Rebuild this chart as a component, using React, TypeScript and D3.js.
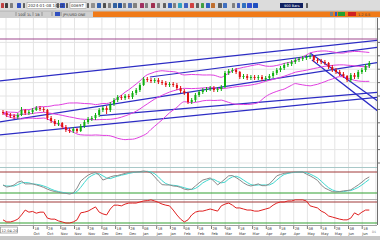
import React from 'react';
import * as d3 from 'd3';

// ---------- DATA (price units) ----------
const opens = [58,57,55,54,53,55,60,57,58,60,62,61,60,52,49,46,47,43,40,39,41,39,44,48,51,52,55,60,62,60,66,70,73,72,74,73,77,80,85,91,90,89,90,88,87,85,86,85,82,79,77,68,70,75,78,80,81,82,80,81,83,97,99,100,98,93,94,92,93,92,93,91,92,94,97,100,102,105,106,108,110,111,112,113,114,110,109,108,107,103,100,98,96,94,90,95,93,98,100,104];
const highs = [60,59,57,56,57,63,61,60,62,64,64,63,61,54,51,50,48,45,42,43,42,46,50,53,54,57,62,64,64,68,72,75,75,76,76,79,82,87,93,93,92,92,92,90,89,88,88,87,84,81,78,72,77,80,82,83,84,84,83,85,99,101,102,102,99,96,96,95,95,95,95,94,96,99,102,104,107,108,110,112,113,114,115,116,115,112,111,110,108,105,102,100,98,95,97,97,100,102,106,109];
const lows = [55,53,52,51,51,54,55,55,56,59,59,58,50,47,44,44,41,38,37,37,37,38,42,46,49,50,53,58,56,58,64,68,70,70,71,71,75,78,84,88,87,87,86,85,83,83,83,80,77,75,66,66,68,73,76,78,79,78,78,79,82,95,97,96,91,91,90,90,90,90,89,89,90,92,95,98,100,103,104,106,108,109,110,111,108,107,106,105,101,98,96,94,92,88,88,91,91,96,98,102];
const closes = [57,55,54,53,55,60,57,58,60,62,61,60,52,49,46,47,43,40,39,41,39,44,48,51,52,55,60,62,60,66,70,73,72,74,73,77,80,85,91,90,89,90,88,87,85,86,85,82,79,77,68,70,75,78,80,81,82,80,81,83,97,99,100,98,93,94,92,93,92,93,91,92,94,97,100,102,105,106,108,110,111,112,113,114,110,109,108,107,103,100,98,96,94,90,95,93,98,100,104,107];

const stochK = [43,37,39,43,51,54,46,46,46,43,40,36,31,27,24,22,20,19,17,20,34,54,63,71,76,79,71,57,61,66,69,70,73,76,79,80,80,81,83,81,77,66,54,44,43,43,40,39,36,31,29,31,40,49,57,60,63,54,43,51,60,69,70,64,57,49,43,40,43,46,41,41,46,57,69,73,76,78,79,80,80,80,74,69,63,56,43,34,29,24,23,24,26,27,29,36,43,51,60,66];
const stochD = [42,40,40,40,44,49,50,49,46,45,43,40,36,31,27,24,22,20,19,19,24,36,50,63,70,75,75,69,63,61,65,68,71,73,76,78,80,80,81,82,80,75,66,55,47,43,42,41,38,35,32,30,33,40,49,55,60,59,53,49,51,60,66,68,64,57,50,44,42,43,43,43,43,48,57,66,73,76,78,79,80,80,78,74,69,63,54,44,35,29,25,24,24,26,27,31,36,43,51,59];
const oscR = [29,23,23,26,31,43,57,51,53,48,51,51,34,31,31,26,23,20,20,23,29,49,51,54,60,66,51,46,43,60,71,71,69,74,77,77,77,80,83,84,86,83,79,74,71,69,57,43,31,23,29,43,51,54,54,57,60,57,54,69,74,77,71,63,63,60,57,57,54,54,57,60,63,71,77,80,80,83,83,86,86,86,83,69,66,63,54,49,40,37,34,31,29,29,34,49,43,51,57,57];

const overbought = 80;
const oversold = 20;
const resistance = 131;
const bbPeriod = 20;
const bbWidth = 2;

// trend lines: [startIndex, startPrice, endIndex, endPrice]
const trendLines = [
  [-1, 89, 102, 130],
  [39.7, 93, 102, 123],
  [-1, 48, 102, 108],
  [26.2, 54.4, 102, 78],
  [-1, 35, 102, 73],
  [83, 117, 102, 67],
  [83.5, 110, 102, 57],
];

const dayLabels = ['18','28','08','18','28','08','18','28','08','18','28','08','18','28','08','18','28','08','18','28','08','18','28','08','18','28'];
const monthLabels = ['Oct','Oct','Nov','Nov','Nov','Dec','Dec','Dec','Jan','Jan','Jan','Feb','Feb','Feb','Mar','Mar','Mar','Apr','Apr','Apr','May','May','May','Jun','Jun','Jun'];

// decorative toolbar glyphs [x, width, colour]
const toolIcons: [number, number, string][] = [
  [1,3,'#c04040'],[5,3,'#404040'],[10,3,'#808080'],[17,4,'#3050c0'],[23,2,'#606060'],
  [57,2,'#606060'],[60,5,'#3050c0'],[66,2,'#606060'],[87,2,'#606060'],[91,4,'#909090'],
  [97,4,'#3060b0'],[103,3,'#505050'],[108,3,'#808080'],[113,4,'#3060a0'],[118,4,'#2050a0'],
  [123,3,'#808080'],[128,4,'#5070b0'],[133,4,'#808080'],[140,4,'#a03060'],[145,3,'#808080'],
  [151,4,'#a03050'],[157,3,'#808080'],[163,3,'#606060'],[168,4,'#3060c0'],[173,3,'#808080'],
  [178,4,'#30a0c0'],[184,4,'#4060c0'],[190,4,'#d04040'],[196,3,'#606060'],[201,3,'#40a040'],
  [206,4,'#3060c0'],[211,4,'#c07030'],[218,4,'#606060'],[223,4,'#4070c0'],[232,3,'#808080'],
  [237,3,'#4060c0'],[242,4,'#3070c0'],[247,5,'#3050d0'],[253,5,'#2050c0'],[306,2,'#606060'],
];

export default function App() {
  const W = 380, H = 240;
  const n = closes.length;
  const x = d3.scaleLinear().domain([0, n - 1]).range([3, 369.3]);
  const yMain = d3.scaleLinear().domain([0, 152]).range([170, 18]);
  const yStoch = d3.scaleLinear().domain([0, 100]).range([200, 165]);
  const yOsc = d3.scaleLinear().domain([0, 100]).range([230, 195]);

  const bb = closes.map((_, i) => {
    const w = closes.slice(Math.max(0, i - bbPeriod + 1), i + 1);
    const m = d3.mean(w) as number;
    const s = Math.sqrt(d3.mean(w, (v) => (v - m) * (v - m)) as number);
    return { m, u: m + bbWidth * s, l: m - bbWidth * s };
  });

  const bbLine = (key: 'm' | 'u' | 'l') =>
    d3.line<{ m: number; u: number; l: number }>()
      .x((_, i) => x(i))
      .y((d) => yMain(d[key]))
      .curve(d3.curveMonotoneX)(bb) as string;

  const stochLine = (arr: number[]) =>
    d3.line<number>().x((_, i) => x(i)).y((d) => yStoch(d))(arr) as string;
  const oscLine = d3.line<number>().x((_, i) => x(i)).y((d) => yOsc(d))(oscR) as string;

  const gridX = d3.range(0, 28).map((k) => 6 + 13.7 * k);
  const gridY = d3.range(0, 11).map((k) => 163 - 13.4 * k);

  const font = 'DejaVu Sans, sans-serif';

  return (
    <svg width={W} height={H} style={{ position: 'fixed', left: 0, top: 0, background: '#fff' }}
      xmlns="http://www.w3.org/2000/svg">
      <defs>
        <clipPath id="mainClip"><rect x={0} y={18} width={377} height={149} /></clipPath>
      </defs>
      <rect x={0} y={0} width={W} height={H} fill="#ffffff" />

      {/* grid */}
      {gridX.map((gx, i) => (
        <line key={'gx' + i} x1={gx} x2={gx} y1={18} y2={225} stroke="#e4e4e4" strokeWidth={1} />
      ))}
      {gridY.map((gy, i) => (
        <line key={'gy' + i} x1={0} x2={377} y1={gy} y2={gy} stroke="#e4e4e4" strokeWidth={1} />
      ))}

      <g clipPath="url(#mainClip)">
        {/* resistance horizontal */}
        <line x1={0} x2={377} y1={yMain(resistance)} y2={yMain(resistance)} stroke="#a04a90" strokeWidth={1.2} />
        {/* trend lines */}
        {trendLines.map((t, i) => (
          <line key={'t' + i} x1={x(t[0])} y1={yMain(t[1])} x2={x(t[2])} y2={yMain(t[3])}
            stroke="#2c2cc4" strokeWidth={1.2} />
        ))}
        {/* bollinger */}
        <path d={bbLine('u')} fill="none" stroke="#e040e0" strokeWidth={1} />
        <path d={bbLine('m')} fill="none" stroke="#e040e0" strokeWidth={1} />
        <path d={bbLine('l')} fill="none" stroke="#e040e0" strokeWidth={1} />
        {/* candles */}
        {closes.map((c, i) => {
          const o = opens[i];
          const up = c >= o;
          const col = up ? '#10b010' : '#e01010';
          const top = yMain(Math.max(o, c));
          const bot = yMain(Math.min(o, c));
          return (
            <g key={'c' + i}>
              <line x1={x(i)} x2={x(i)} y1={yMain(highs[i])} y2={yMain(lows[i])} stroke={col} strokeWidth={1} />
              <rect x={x(i) - 1} y={top} width={2} height={Math.max(1, bot - top)} fill={col} />
            </g>
          );
        })}
      </g>

      {/* panel separators */}
      <line x1={0} x2={377} y1={167.5} y2={167.5} stroke="#a8c8c8" strokeWidth={1} />
      <line x1={0} x2={377} y1={199.5} y2={199.5} stroke="#b0b0b0" strokeWidth={1} />
      <line x1={0} x2={377} y1={225.5} y2={225.5} stroke="#a0a0a0" strokeWidth={1} />

      {/* stochastic panel */}
      <line x1={0} x2={377} y1={yStoch(overbought)} y2={yStoch(overbought)} stroke="#a03838" strokeWidth={1} />
      <line x1={0} x2={377} y1={yStoch(oversold)} y2={yStoch(oversold)} stroke="#30a030" strokeWidth={1} />
      <path d={stochLine(stochD)} fill="none" stroke="#40d8d0" strokeWidth={1} />
      <path d={stochLine(stochK)} fill="none" stroke="#8a8a8a" strokeWidth={1} />

      {/* oscillator panel */}
      <line x1={0} x2={377} y1={yOsc(overbought)} y2={yOsc(overbought)} stroke="#a03838" strokeWidth={1} />
      <line x1={0} x2={377} y1={yOsc(oversold)} y2={yOsc(oversold)} stroke="#30a030" strokeWidth={1} />
      <path d={oscLine} fill="none" stroke="#e02020" strokeWidth={1} />

      {/* right price axis */}
      <line x1={377.5} x2={377.5} y1={18} y2={225} stroke="#707070" strokeWidth={1} />
      {gridY.map((gy, i) => (
        <line key={'rt' + i} x1={377} x2={380} y1={gy} y2={gy} stroke="#707070" strokeWidth={1} />
      ))}

      {/* date axis */}
      <rect x={0.5} y={227} width={17} height={6} fill="#fff" stroke="#909090" strokeWidth={0.7} />
      <text x={1.5} y={231.8} fontSize={3.5} fontFamily={font} fill="#404040">12-04-20</text>
      {dayLabels.map((d, i) => {
        const gx = gridX[i + 1] + 13.7;
        if (gx > 372) return null;
        return (
          <g key={'dl' + i}>
            <line x1={gx} x2={gx} y1={226} y2={229} stroke="#404040" strokeWidth={0.7} />
            <text x={gx + 1} y={229.5} fontSize={3.6} fontFamily={font} fill="#303030">{d}</text>
            <text x={gx} y={234.5} fontSize={3.6} fontFamily={font} fill="#303030">{monthLabels[i]}</text>
          </g>
        );
      })}
      <text x={372} y={233} fontSize={3} fontFamily={font} fill="#808080">D1</text>
      <rect x={0} y={236} width={W} height={4} fill="#c8c8c8" />

      {/* top toolbar */}
      <rect x={0} y={0} width={W} height={11} fill="#dcdcdc" />
      {toolIcons.map((t, i) => (
        <rect key={'ti' + i} x={t[0]} y={3} width={t[1]} height={5} fill={t[2]} rx={0.5} />
      ))}
      <rect x={27} y={2.5} width={29} height={6} fill="#fff" stroke="#909090" strokeWidth={0.5} />
      <text x={28} y={7} fontSize={4} fontFamily={font} fill="#303030">2024-01-08 14:12</text>
      <rect x={70} y={2.5} width={16} height={6} fill="#fff" stroke="#909090" strokeWidth={0.5} />
      <text x={71} y={7} fontSize={4} fontFamily={font} fill="#303030">00697</text>
      <rect x={280} y={3} width={23} height={5} fill="#102060" />
      <text x={284} y={7} fontSize={3.5} fontFamily={font} fill="#ffffff">900 Bars</text>

      {/* second bar */}
      <rect x={0} y={11} width={W} height={6} fill="#cfcfcf" />
      <line x1={0} x2={W} y1={11} y2={11} stroke="#a0a0a0" strokeWidth={0.6} />
      {[16, 25, 33, 42, 52, 61].map((sx, i) => (
        <line key={'sep' + i} x1={sx} x2={sx} y1={12} y2={16} stroke="#707070" strokeWidth={0.6} />
      ))}
      <text x={18} y={15.6} fontSize={3.5} fontFamily={font} fill="#303030">100</text>
      <text x={27} y={15.6} fontSize={3.5} fontFamily={font} fill="#303030">1L</text>
      <text x={35} y={15.6} fontSize={3.5} fontFamily={font} fill="#303030">1B</text>
      <rect x={55} y={12} width={5} height={4} fill="#3050c0" />
      <text x={63} y={15.6} fontSize={3.5} fontFamily={font} fill="#303030">JPY/USD ONE</text>
      <rect x={93} y={11.5} width={287} height={5.5} fill="#f07a18" />
      <rect x={330} y={12} width={3} height={4} fill="#808080" />
      <rect x={335} y={12} width={2} height={4} fill="#3050c0" />
      <rect x={338} y={12} width={7} height={4} fill="#20a030" />
      <rect x={348} y={12} width={8} height={4} fill="#d02020" />
      <text x={358} y={15.6} fontSize={3.5} fontFamily={font} fill="#404040">1.2 0.5</text>
      <line x1={0} x2={W} y1={17.5} y2={17.5} stroke="#b0b0b0" strokeWidth={0.6} />
    </svg>
  );
}
